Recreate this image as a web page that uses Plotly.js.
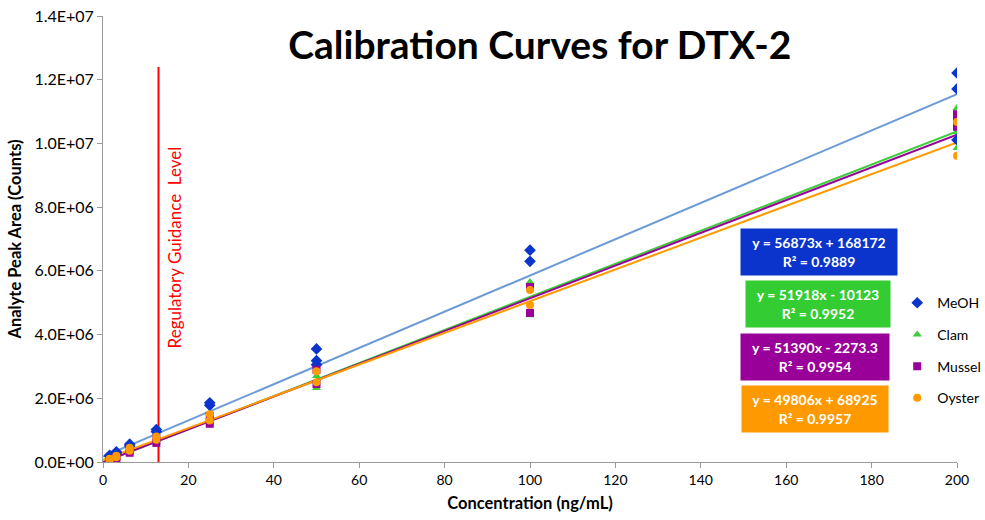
<!DOCTYPE html>
<html>
<head>
<meta charset="utf-8">
<script src="https://cdn.plot.ly/plotly-3.0.1.min.js"></script>
<style>html,body{margin:0;padding:0;background:#fff;}#chart{width:985px;height:520px;}</style>
</head>
<body>
<div id="chart"></div>
<script>
// ---- Data ----
var seriesNames = ["MeOH", "Clam", "Mussel", "Oyster"];

var meohX = [1.56,1.56,3.125,3.125,6.25,6.25,12.5,12.5,25,25,50,50,50,100,100,200,200,200];
var meohY = [0.18e6,0.21e6,0.28e6,0.32e6,0.50e6,0.56e6,0.95e6,1.02e6,1.78e6,1.86e6,3.05e6,3.18e6,3.55e6,6.30e6,6.65e6,1.011e7,1.171e7,1.221e7];

var clamX = [1.56,1.56,3.125,3.125,6.25,6.25,12.5,12.5,25,25,50,50,100,100,200,200,200];
var clamY = [0.05e6,0.08e6,0.14e6,0.18e6,0.32e6,0.38e6,0.62e6,0.72e6,1.25e6,1.40e6,2.32e6,2.70e6,4.61e6,5.65e6,0.986e7,1.036e7,1.111e7];

var musselX = [1.56,1.56,3.125,3.125,6.25,6.25,12.5,12.5,25,25,50,50,100,100,200,200,200];
var musselY = [0.03e6,0.06e6,0.10e6,0.15e6,0.29e6,0.40e6,0.60e6,0.75e6,1.20e6,1.45e6,2.45e6,2.90e6,4.68e6,5.49e6,1.052e7,1.067e7,1.092e7];

var oysterX = [1.56,1.56,3.125,3.125,6.25,6.25,12.5,12.5,25,25,50,50,100,100,200,200];
var oysterY = [0.06e6,0.10e6,0.15e6,0.20e6,0.35e6,0.45e6,0.70e6,0.80e6,1.30e6,1.50e6,2.50e6,2.85e6,4.93e6,5.40e6,0.961e7,1.067e7];

// Linear fits shown on the chart
var slopes = [56873, 51918, 51390, 49806];
var intercepts = [168172, -10123, -2273.3, 68925];
var r2 = ["0.9889", "0.9952", "0.9954", "0.9957"];
var eqText = ["y = 56873x + 168172", "y = 51918x - 10123", "y = 51390x - 2273.3", "y = 49806x + 68925"];
var fitRange = [0, 200];

var regulatoryLevel = 13;
var regulatoryTop = 1.24e7;
var regulatoryLabel = "Regulatory Guidance  Level";

var yTickVals = [0, 2e6, 4e6, 6e6, 8e6, 1e7, 1.2e7, 1.4e7];
var yTickText = ["0.0E+00", "2.0E+06", "4.0E+06", "6.0E+06", "8.0E+06", "1.0E+07", "1.2E+07", "1.4E+07"];
var xTickVals = [0,20,40,60,80,100,120,140,160,180,200];

// ---- Styles ----
var FONT = "Lato, 'Open Sans', sans-serif";
var markerColors = ["#0a34cc", "#3ccc3c", "#990099", "#ff9a00"];
var lineColors = ["#6a9bd6", "#3ccc3c", "#990099", "#ff9a00"];
var boxColors = ["#0a34cc", "#33cc33", "#990099", "#ff9900"];
var symbols = ["diamond", "triangle-up", "square", "circle"];
var xs = [meohX, clamX, musselX, oysterX];
var ys = [meohY, clamY, musselY, oysterY];

var traces = [];
for (var i = 0; i < 4; i++) {
  traces.push({
    x: fitRange,
    y: fitRange.map(function (v) { return slopes[i] * v + intercepts[i]; }),
    mode: "lines", type: "scatter", showlegend: false, hoverinfo: "skip",
    line: {color: lineColors[i], width: 2}
  });
}
traces.push({
  x: [regulatoryLevel, regulatoryLevel], y: [0, regulatoryTop],
  mode: "lines", type: "scatter", showlegend: false,
  line: {color: "#ff0000", width: 2}
});
for (var j = 0; j < 4; j++) {
  traces.push({
    x: xs[j], y: ys[j], name: seriesNames[j], legendgroup: seriesNames[j],
    mode: "markers", type: "scatter",
    marker: {symbol: symbols[j], color: markerColors[j], size: j === 0 ? 9 : 8}
  });
}

var boxPos = [[0.838, 0.47, 150], [0.837, 0.355, 138], [0.834, 0.236, 142], [0.834, 0.118, 140]];
var annotations = [];
for (var k = 0; k < 4; k++) {
  annotations.push({
    xref: "paper", yref: "paper", x: boxPos[k][0], y: boxPos[k][1],
    xanchor: "center", yanchor: "middle",
    text: "<b>" + eqText[k] + "<br>R² = " + r2[k] + "</b>",
    showarrow: false, bgcolor: boxColors[k], width: boxPos[k][2], height: 40,
    borderpad: 3, font: {family: FONT, size: 14, color: "#ffffff"}, align: "center"
  });
}
annotations.push({
  xref: "x", yref: "paper", x: regulatoryLevel, xshift: 16, y: 0.48,
  xanchor: "center", yanchor: "middle",
  text: regulatoryLabel, textangle: -90, showarrow: false,
  font: {family: FONT, size: 17, color: "#ff0000"}
});

var layout = {
  width: 985, height: 520,
  margin: {l: 103, r: 28, t: 16, b: 58, autoexpand: false},
  paper_bgcolor: "#ffffff", plot_bgcolor: "#ffffff",
  font: {family: FONT, size: 13, color: "#000000"},
  title: {text: "<b>Calibration Curves for DTX-2</b>", x: 0.548, xanchor: "center",
          y: 0.913, yanchor: "middle", yref: "container",
          font: {family: FONT, size: 39, color: "#000000"}},
  xaxis: {
    range: [0, 200], tickvals: xTickVals, showgrid: false, zeroline: false,
    showline: true, linecolor: "#9a9a9a", linewidth: 1,
    ticks: "outside", ticklen: 5, tickcolor: "#9a9a9a", automargin: false,
    tickfont: {family: FONT, size: 14, color: "#000000"},
    title: {text: "<b>Concentration (ng/mL)</b>", standoff: 10,
            font: {family: FONT, size: 16.5, color: "#000000"}}
  },
  yaxis: {
    range: [0, 1.4e7], tickvals: yTickVals, ticktext: yTickText, showgrid: false, zeroline: false,
    showline: true, linecolor: "#9a9a9a", linewidth: 1,
    ticks: "outside", ticklen: 5, tickcolor: "#9a9a9a", automargin: false,
    tickfont: {family: FONT, size: 16, color: "#000000"},
    title: {text: "<b>Analyte Peak Area (Counts)</b>", standoff: 8,
            font: {family: FONT, size: 16.5, color: "#000000"}}
  },
  legend: {x: 0.93, y: 0.392, xanchor: "left", yanchor: "top",
           traceorder: "grouped", tracegroupgap: 10.5, bgcolor: "rgba(0,0,0,0)",
           font: {family: FONT, size: 14, color: "#000000"}, itemwidth: 30},
  annotations: annotations,
  showlegend: true
};

Plotly.newPlot("chart", traces, layout, {displayModeBar: false, responsive: false});
</script>
</body>
</html>
